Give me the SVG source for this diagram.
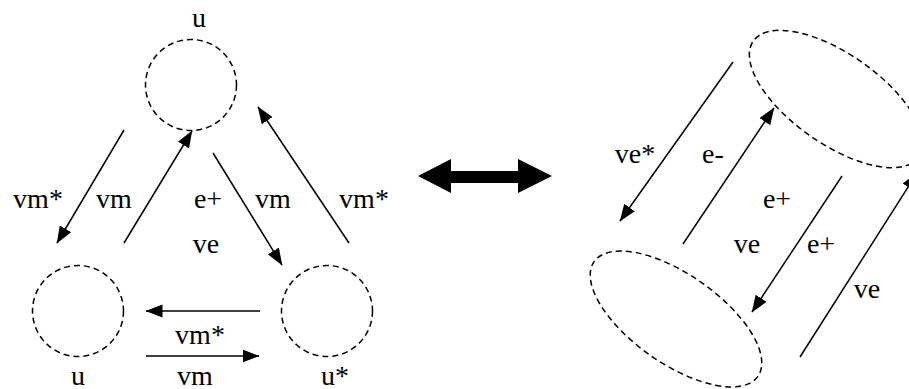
<svg xmlns="http://www.w3.org/2000/svg" width="909" height="389" viewBox="0 0 909 389">
<style>
.node{fill:none;stroke:#000;stroke-width:1.5;stroke-dasharray:6 4}
.conn{fill:none;stroke:#000;stroke-width:1.5}
.arr{marker-end:url(#ah)}
text{font-family:"Liberation Serif","Times New Roman",serif;font-size:28px;fill:#000;text-anchor:middle}
</style>
<defs>
<marker id="ah" markerUnits="userSpaceOnUse" markerWidth="18" markerHeight="14" refX="16.5" refY="6.5" orient="auto">
<path d="M0,0 L17,6.5 L0,13 z" fill="#000"/>
</marker>
</defs>
<rect width="909" height="389" fill="#fff"/>
<g id="node-top">
<circle class="node" cx="191" cy="85" r="45.5"/>
<text x="199" y="27">u</text>
</g>
<g id="node-bl">
<circle class="node" cx="78" cy="311" r="45.5"/>
<text x="78" y="385">u</text>
</g>
<g id="node-br">
<circle class="node" cx="327" cy="311" r="45.5"/>
<text x="335" y="385">u*</text>
</g>
<g id="node-upper-ellipse">
<ellipse class="node" cx="836" cy="99" rx="101" ry="45" transform="rotate(35 836 99)"/>
</g>
<g id="node-lower-ellipse">
<ellipse class="node" cx="676" cy="319" rx="100" ry="44.5" transform="rotate(35 676 319)"/>
</g>
<g id="connectors">
<line class="conn arr" x1="124" y1="130" x2="57" y2="243"/>
<line class="conn arr" x1="124" y1="243" x2="192" y2="131"/>
<line class="conn arr" x1="213" y1="153" x2="282" y2="265"/>
<line class="conn arr" x1="349" y1="243" x2="258" y2="107"/>
<line class="conn arr" x1="260" y1="311" x2="146" y2="311"/>
<line class="conn arr" x1="146" y1="356" x2="259" y2="356"/>
<polygon points="418,176 451,159 451,171 518,171 518,159 552,176 518,193 518,183 451,183 451,193" fill="#000"/>
<line class="conn arr" x1="733" y1="62" x2="620" y2="221"/>
<line class="conn arr" x1="683" y1="244" x2="774" y2="108"/>
<line class="conn arr" x1="842" y1="176" x2="752" y2="312"/>
<line class="conn arr" x1="800" y1="357" x2="917" y2="173"/>
</g>
<g id="labels">
<text x="38" y="208">vm*</text>
<text x="114" y="208">vm</text>
<text x="208" y="208">e+</text>
<text x="273" y="208">vm</text>
<text x="364" y="208">vm*</text>
<text x="206" y="253">ve</text>
<text x="200" y="344">vm*</text>
<text x="195" y="385">vm</text>
<text x="635" y="163">ve*</text>
<text x="713" y="163">e-</text>
<text x="777" y="208">e+</text>
<text x="747" y="253">ve</text>
<text x="821" y="253">e+</text>
<text x="867" y="298">ve</text>
</g>
</svg>
